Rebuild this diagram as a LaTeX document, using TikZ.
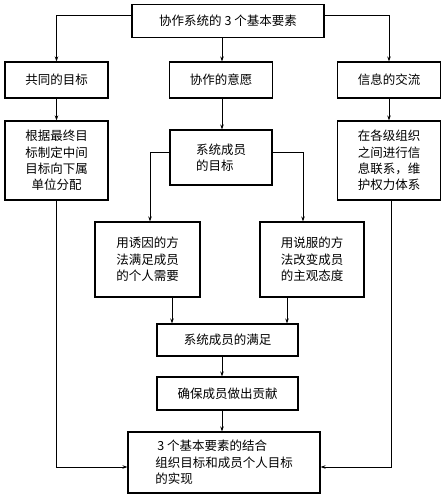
\documentclass[tikz,border=0pt]{standalone}
\usepackage{fontspec}
\setmainfont{Noto Sans CJK SC}
\usetikzlibrary{arrows.meta,positioning,calc}

\begin{document}
\begin{tikzpicture}[
  x=1pt, y=-1pt,
  every node/.style={font=\fontsize{12.5}{16.3}\selectfont},
  box/.style={draw, line width=1.1pt, inner sep=0pt, align=center},
  tbox/.style={box, minimum width=103pt, minimum height=36pt},
  arr/.style={-{Stealth[length=5pt, width=3.5pt]}, line width=0.9pt},
  ln/.style={line width=0.9pt}
]
\useasboundingbox (0,0) rectangle (445,497);

\node[box, minimum width=192pt, minimum height=33pt] (elem) at (228,21) {协作系统的 3 个基本要素};
\node[tbox] (goal) at (56.5,80) {共同的目标};
\node[tbox] (will) at (221,80) {协作的意愿};
\node[tbox] (info) at (389,80) {信息的交流};
\node[box, minimum width=103pt, minimum height=79pt] (plan) at (56.5,160.5) {根据最终目\\标制定中间\\目标向下属\\单位分配};
\node[box, minimum width=102pt, minimum height=55pt, align=left] (mgoal) at (221,157.5) {系统成员\\的目标};
\node[box, minimum width=103pt, minimum height=79pt] (comm) at (389,160.5) {在各级组织\\之间进行信\\息联系，维\\护权力体系};
\node[box, minimum width=105pt, minimum height=75pt] (induce) at (147.5,259.5) {用诱因的方\\法满足成员\\的个人需要};
\node[box, minimum width=104pt, minimum height=75pt] (persuade) at (312,259.5) {用说服的方\\法改变成员\\的主观态度};
\node[box, minimum width=141pt, minimum height=32pt] (satisfy) at (227.5,340) {系统成员的满足};
\node[box, minimum width=141pt, minimum height=33pt] (contrib) at (227.5,393.5) {确保成员做出贡献};
\node[box, minimum width=192pt, minimum height=61pt, align=left] (result) at (224,462.5) {\,3 个基本要素的结合\\组织目标和成员个人目标\\的实现};

\coordinate (mid) at (222,0);
\draw[arr] ([yshift=6pt]elem.west) -| (goal.north);
\draw[arr] ([yshift=6pt]elem.east) -| (info.north);
\draw[arr] (elem.south -| mid) -- (will.north -| mid);
\draw[arr] (goal) -- (plan);
\draw[arr] (will.south -| mid) -- (mgoal.north -| mid);
\draw[arr] (info) -- (comm);
\draw[arr] ([yshift=5pt]mgoal.west) -| ([xshift=2.5pt]induce.north);
\draw[arr] ([yshift=5pt]mgoal.east) -| ([xshift=-9pt]persuade.north);
\draw[arr] ([xshift=24.5pt]induce.south) -- ([xshift=24.5pt]induce.south |- satisfy.north);
\draw[arr] ([xshift=-25pt]persuade.south) -- ([xshift=-25pt]persuade.south |- satisfy.north);
\draw[arr] (satisfy.south -| mid) -- (contrib.north -| mid);
\draw[arr] (contrib.south -| mid) -- (result.north -| mid);
\draw[arr] (plan.south) |- ([yshift=-4.5pt]result.west);
\draw[arr] ([xshift=2pt]comm.south) |- ([yshift=-4.5pt]result.east);
\end{tikzpicture}
\end{document}
